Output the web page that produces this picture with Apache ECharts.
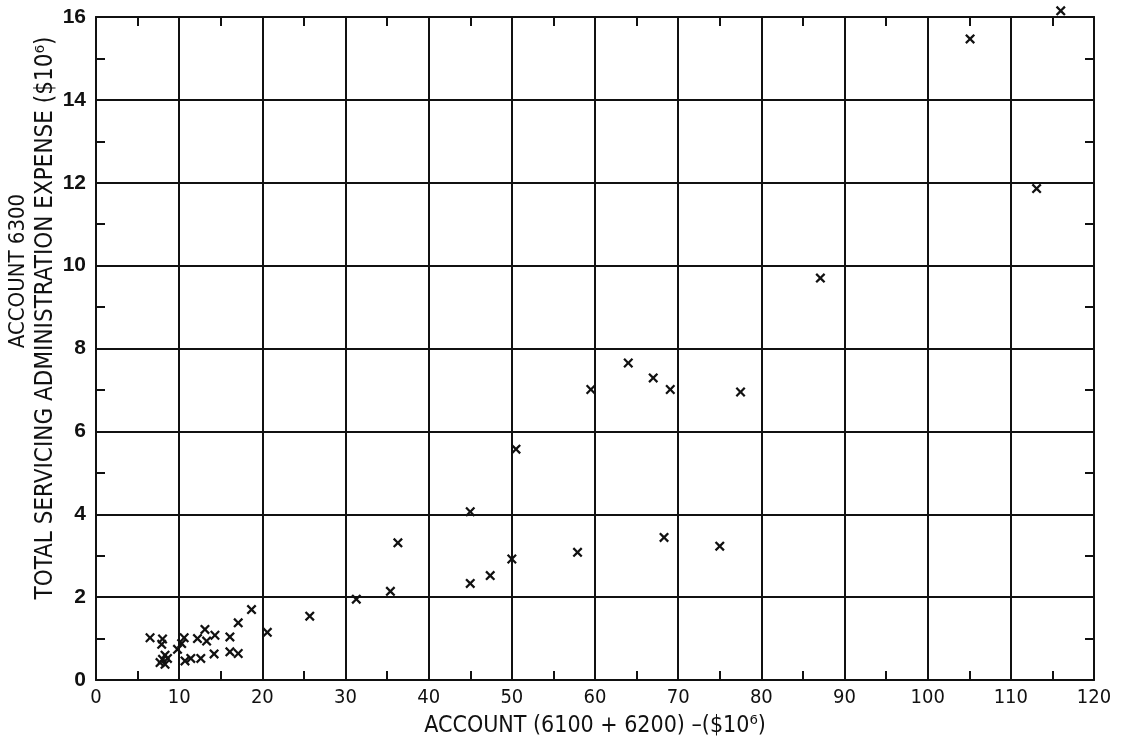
<!DOCTYPE html>
<html><head><meta charset="utf-8">
<script src="https://cdn.jsdelivr.net/npm/echarts@6/dist/echarts.min.js"></script>
<style>html,body{margin:0;padding:0;background:#fff}#c{width:1122px;height:746px}</style>
</head><body><div id="c"></div>
<script>
const xValues = [116.0,105.1,113.1,87.1,64.0,67.0,69.05,59.5,77.5,68.3,75.0,57.9,50.5,45.0,36.3,50.0,47.4,45.0,35.4,31.3,25.7,18.7,17.1,20.6,16.1,16.1,17.1,14.2,12.6,11.4,10.7,13.1,14.3,13.3,12.2,10.6,10.3,9.8,6.5,8.0,7.9,8.3,8.0,7.7,8.3,8.6];
const yValues = [16.15,15.47,11.86,9.70,7.65,7.29,7.01,7.01,6.95,3.44,3.23,3.08,5.57,4.06,3.31,2.92,2.52,2.33,2.14,1.95,1.54,1.70,1.38,1.15,1.04,0.68,0.64,0.63,0.52,0.52,0.46,1.22,1.08,0.94,1.0,1.02,0.88,0.74,1.02,0.99,0.86,0.60,0.50,0.42,0.38,0.52];
const xTitle = 'ACCOUNT (6100 + 6200) –($10⁶)';
const yTitle1 = 'ACCOUNT 6300';
const yTitle2 = 'TOTAL SERVICING ADMINISTRATION EXPENSE ($10⁶)';

const pts = xValues.map((x, i) => [x, yValues[i]]);
const xMark = 'path://M0,1.6L1.6,0L5,3.4L8.4,0L10,1.6L6.6,5L10,8.4L8.4,10L5,6.6L1.6,10L0,8.4L3.4,5Z';
const black = '#111';

function axisBase(extra) {
  return Object.assign({
    type: 'value',
    axisLine: {show: true, onZero: false, lineStyle: {color: black, width: 2}},
    axisTick: {show: false, inside: true},
    minorTick: {show: true, splitNumber: 2, length: 9, lineStyle: {color: black, width: 2}},
  }, extra);
}

const chart = echarts.init(document.getElementById('c'));
chart.setOption({
  backgroundColor: '#fff',
  animation: false,
  grid: {left: 96, right: 28, top: 17, bottom: 66},
  xAxis: [axisBase({
    min: 0, max: 120, interval: 10, position: 'bottom',
    splitLine: {show: true, lineStyle: {color: black, width: 2}},
    axisLabel: {color: black, fontFamily: 'DejaVu Sans Condensed', fontSize: 20, margin: 8},
    name: xTitle, nameLocation: 'middle', nameGap: 35,
    nameTextStyle: {color: black, fontFamily: 'DejaVu Sans Condensed', fontSize: 23}
  }), axisBase({
    min: 0, max: 120, interval: 10, position: 'top',
    splitLine: {show: false}, axisLabel: {show: false}
  })],
  yAxis: [axisBase({
    min: 0, max: 16, interval: 2, position: 'left',
    splitLine: {show: true, lineStyle: {color: black, width: 2}},
    axisLabel: {color: black, fontFamily: 'Liberation Sans', fontWeight: 'bold', fontSize: 21, margin: 10}
  }), axisBase({
    min: 0, max: 16, interval: 2, position: 'right',
    splitLine: {show: false}, axisLabel: {show: false}
  })],
  graphic: [{
    type: 'text', x: 18, y: 271, rotation: Math.PI / 2,
    style: {text: yTitle1, fill: black, font: '22px "DejaVu Sans Condensed"', textAlign: 'center', textVerticalAlign: 'middle'}
  }, {
    type: 'text', x: 46, y: 318, rotation: Math.PI / 2,
    style: {text: yTitle2, fill: black, font: '24px "DejaVu Sans Condensed"', textAlign: 'center', textVerticalAlign: 'middle'}
  }],
  series: [{
    type: 'scatter', data: pts, clip: false,
    symbol: xMark, symbolSize: 10,
    itemStyle: {color: black, opacity: 1}
  }]
});
</script></body></html>
